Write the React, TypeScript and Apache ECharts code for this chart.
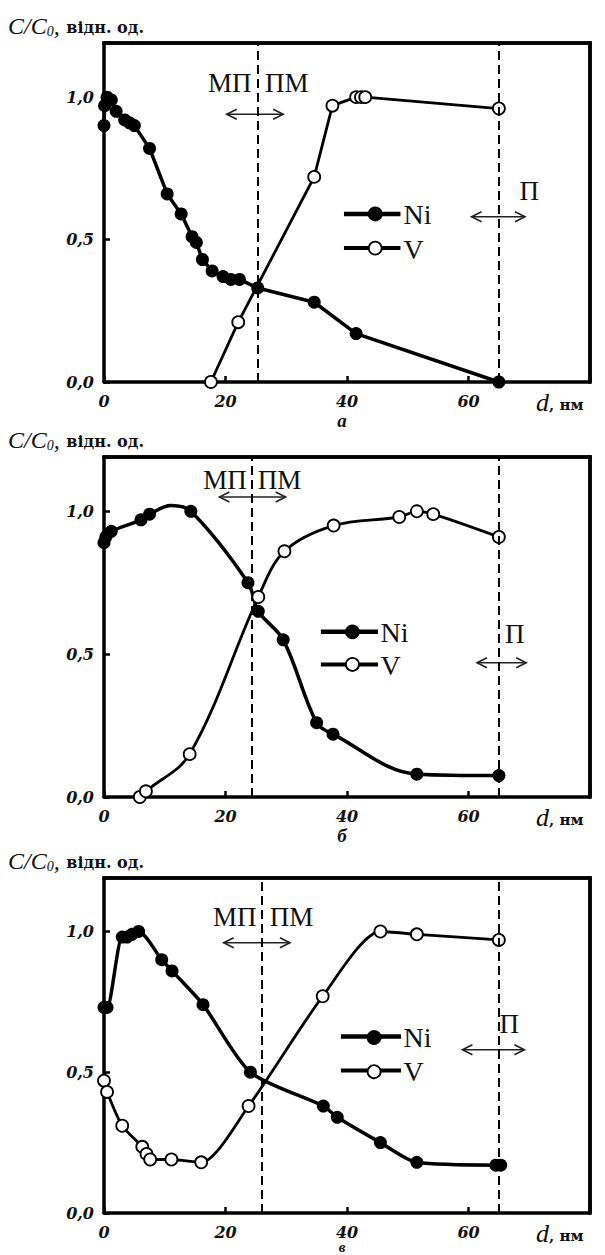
import React, { useEffect, useRef } from "react";
import * as echarts from "echarts";

// ---- data (d, nm ; C/C0) ----
const NI_A: number[][] = [
  [0, 0.9], [0.1, 0.97], [0.5, 1.0], [1.2, 0.99], [2.0, 0.95], [3.4, 0.92], [4.2, 0.91], [5.0, 0.9],
  [7.5, 0.82], [10.4, 0.66], [12.7, 0.59], [14.5, 0.51], [15.2, 0.49], [16.2, 0.43], [17.8, 0.39],
  [19.6, 0.37], [20.9, 0.36], [22.3, 0.36], [25.3, 0.33], [34.6, 0.28], [41.5, 0.17], [65, 0.0],
];
const V_A: number[][] = [
  [17.6, 0.0], [22.1, 0.21], [34.6, 0.72], [37.6, 0.97], [41.5, 1.0], [42.3, 1.0], [43, 1.0], [65, 0.96],
];
const NI_B: number[][] = [
  [0, 0.89], [0.3, 0.91], [1.2, 0.93], [6.1, 0.97], [7.5, 0.99], [11, 1.02], [14.3, 1.0], [23.7, 0.75],
  [25.4, 0.65], [29.5, 0.55], [35, 0.26], [37.7, 0.22], [51.5, 0.08], [65, 0.075],
];
const NI_B_UNMARKED: number[] = [11];
const V_B: number[][] = [
  [5.9, 0.0], [6.9, 0.02], [14.1, 0.15], [25.4, 0.7], [29.7, 0.86], [37.8, 0.95], [48.6, 0.98],
  [51.5, 1.0], [54.2, 0.99], [65, 0.91],
];
const NI_C: number[][] = [
  [0, 0.73], [0.5, 0.73], [3.0, 0.98], [3.8, 0.98], [4.6, 0.99], [5.7, 1.0], [9.5, 0.9], [11.2, 0.86],
  [16.3, 0.74], [24.1, 0.5], [36.1, 0.38], [38.4, 0.34], [45.5, 0.25], [51.5, 0.18], [64.5, 0.17], [65.3, 0.17],
];
const V_C: number[][] = [
  [0, 0.47], [0.5, 0.43], [3.0, 0.31], [6.3, 0.235], [7.0, 0.21], [7.6, 0.19], [11.1, 0.19], [16.0, 0.18],
  [23.8, 0.38], [36.0, 0.77], [45.5, 1.0], [51.5, 0.99], [65, 0.97],
];
const DASH_A = [25.3, 65];
const DASH_B = [24.4, 65];
const DASH_C = [25.9, 65];
const Y_LABELS = [0, 0.5, 1.0];
const X_LABELS = [0, 20, 40, 60];
const PANEL_LETTERS = ["а", "б", "в"];
const X_MAX = 80;
const Y_MAX = 1.19;

const SERIF = "'Liberation Serif', 'DejaVu Serif', serif";
const WIDE_SERIF = "'DejaVu Serif', 'Liberation Serif', serif";

const PANELS = [
  {
    top: 43, height: 339, ni: NI_A, v: V_A, dash: DASH_A, smooth: false as any,
    mp: { right: 24.3, left: 26.5, c: 1.05 }, mpArrow: { d1: 20.2, d2: 29.5, c: 0.94 },
    legend: { d1: 39.5, d2: 48.8, text: 49.3, cNi: 0.59, cV: 0.47 },
    p: { d: 70, c: 0.67 }, pArrow: { d1: 60.5, d2: 69.3, c: 0.58 },
  },
  {
    top: 457, height: 340, ni: NI_B, v: V_B, dash: DASH_B, smooth: 0.35 as any,
    mp: { right: 23.5, left: 25.3, c: 1.11 }, mpArrow: { d1: 19, d2: 29.9, c: 1.05 },
    legend: { d1: 35.7, d2: 45.1, text: 45.5, cNi: 0.578, cV: 0.464 },
    p: { d: 67.6, c: 0.57 }, pArrow: { d1: 61.4, d2: 69.5, c: 0.47 },
  },
  {
    top: 878, height: 335, ni: NI_C, v: V_C, dash: DASH_C, smooth: 0.25 as any,
    mp: { right: 25.1, left: 27.3, c: 1.05 }, mpArrow: { d1: 19.7, d2: 30.6, c: 0.96 },
    legend: { d1: 39, d2: 48.9, text: 49.3, cNi: 0.627, cV: 0.506 },
    p: { d: 66.7, c: 0.67 }, pArrow: { d1: 59, d2: 69.2, c: 0.58 },
  },
];

const GRID_LEFT = 104;
const GRID_WIDTH = 486;
const FRAME_W = 3.5;

export default function App() {
  const ref = useRef<HTMLDivElement>(null);
  useEffect(() => {
    const chart = echarts.init(ref.current!, null, { renderer: "svg" });
    const grids: any[] = [];
    const xAxes: any[] = [];
    const yAxes: any[] = [];
    const series: any[] = [];
    const labelStyle = {
      color: "#111", fontFamily: WIDE_SERIF, fontStyle: "italic", fontWeight: "bold", fontSize: 16,
    };
    PANELS.forEach((p, i) => {
      grids.push({ left: GRID_LEFT, top: p.top, width: GRID_WIDTH, height: p.height });
      xAxes.push({
        gridIndex: i, type: "value", min: 0, max: X_MAX, interval: 20,
        axisLine: { show: true, onZero: false, lineStyle: { color: "#000", width: FRAME_W } },
        axisTick: { show: true, inside: true, length: 6, lineStyle: { color: "#000", width: 2.5 } },
        splitLine: { show: false },
        axisLabel: {
          ...labelStyle, margin: 11,
          formatter: (v: number) => (X_LABELS.indexOf(v) >= 0 ? String(v) : ""),
        },
      });
      yAxes.push({
        gridIndex: i, type: "value", min: 0, max: Y_MAX, interval: 0.5,
        axisLine: { show: true, onZero: false, lineStyle: { color: "#000", width: FRAME_W } },
        axisTick: { show: true, inside: true, length: 6, lineStyle: { color: "#000", width: 2.5 } },
        splitLine: { show: false },
        axisLabel: {
          ...labelStyle, margin: 10,
          formatter: (v: number) =>
            Y_LABELS.some((t) => Math.abs(t - v) < 1e-6) ? v.toFixed(1).replace(".", ",") : "",
        },
      });
      const niData = p.ni.map((pt) =>
        i === 1 && NI_B_UNMARKED.indexOf(pt[0]) >= 0 ? { value: pt, symbol: "none" } : pt
      );
      series.push({
        type: "line", name: "Ni", xAxisIndex: i, yAxisIndex: i, data: niData, smooth: p.smooth,
        symbol: "circle", symbolSize: 13, showAllSymbol: true, clip: false,
        lineStyle: { color: "#000", width: 3.5 }, itemStyle: { color: "#000", borderColor: "#000", borderWidth: 0 },
        z: 3,
        markLine: {
          silent: true, symbol: "none", label: { show: false },
          lineStyle: { color: "#000", type: [9, 5], width: 2 },
          data: p.dash.map((d) => ({ xAxis: d })),
        },
      });
      series.push({
        type: "line", name: "V", xAxisIndex: i, yAxisIndex: i, data: p.v, smooth: p.smooth,
        symbol: "circle", symbolSize: 12, showAllSymbol: true, clip: false,
        lineStyle: { color: "#000", width: 2.8 }, itemStyle: { color: "#fff", borderColor: "#000", borderWidth: 1.8 },
        z: 4,
        markLine: {
          silent: true, symbol: "none", label: { show: false },
          lineStyle: { color: "#000", type: "solid", width: FRAME_W },
          data: [{ xAxis: X_MAX }, { yAxis: Y_MAX }],
        },
      });
    });

    chart.setOption({
      animation: false,
      backgroundColor: "#fff",
      grid: grids, xAxis: xAxes, yAxis: yAxes, series,
    });

    const graphics: any[] = [];
    const arrow = (x1: number, x2: number, y: number) => {
      const s = { stroke: "#222", lineWidth: 1.6, fill: "none" };
      graphics.push({ type: "line", shape: { x1, y1: y, x2, y2: y }, style: s });
      graphics.push({ type: "polyline", shape: { points: [[x1 + 10, y - 5], [x1, y], [x1 + 10, y + 5]] }, style: s });
      graphics.push({ type: "polyline", shape: { points: [[x2 - 10, y - 5], [x2, y], [x2 - 10, y + 5]] }, style: s });
    };
    PANELS.forEach((p, i) => {
      const px = (d: number, c: number) => chart.convertToPixel({ xAxisIndex: i, yAxisIndex: i } as any, [d, c]) as number[];
      // frame: top and right edges as thin filled bars
      const tl = px(0, Y_MAX);
      const br = px(X_MAX, 0);
      graphics.push({
        type: "rect", shape: { x: tl[0] - FRAME_W / 2, y: tl[1] - FRAME_W / 2, width: br[0] - tl[0] + FRAME_W, height: FRAME_W },
        style: { fill: "#000" },
      });
      graphics.push({
        type: "rect", shape: { x: br[0] - FRAME_W / 2, y: tl[1] - FRAME_W / 2, width: FRAME_W, height: br[1] - tl[1] + FRAME_W },
        style: { fill: "#000" },
      });
      // title
      graphics.push({
        type: "text", x: 8, y: p.top - 17,
        style: {
          text: "{i|C/C}{s|0}{i|,}  {b|відн. од.}", verticalAlign: "middle", fill: "#111",
          rich: {
            i: { fontFamily: SERIF, fontStyle: "italic", fontSize: 24, fill: "#111" },
            s: { fontFamily: SERIF, fontStyle: "italic", fontSize: 14, padding: [10, 0, 0, 0], fill: "#111" },
            b: { fontFamily: WIDE_SERIF, fontWeight: "bold", fontSize: 16, fill: "#111", padding: [3, 0, 0, 0] },
          },
        },
      });
      // x axis name
      graphics.push({
        type: "text", x: 536, y: p.top + p.height + 20,
        style: {
          text: "{d|d}{n|, нм}", verticalAlign: "middle", fill: "#111",
          rich: {
            d: { fontFamily: SERIF, fontStyle: "italic", fontSize: 26, fill: "#111" },
            n: { fontFamily: WIDE_SERIF, fontWeight: "bold", fontSize: 15, fill: "#111", padding: [5, 0, 0, 0] },
          },
        },
      });
      // panel letter
      const letterY = i === 2 ? 1247 : p.top + p.height + 38;
      graphics.push({
        type: "text", x: 342, y: letterY,
        style: {
          text: PANEL_LETTERS[i], align: "center", verticalAlign: "middle", fill: "#111",
          font: `italic bold ${i === 2 ? 15 : 19}px ${SERIF}`,
        },
      });
      // МП / ПМ
      const mpR = px(p.mp.right, p.mp.c);
      const mpL = px(p.mp.left, p.mp.c);
      graphics.push({
        type: "text", x: mpR[0], y: mpR[1],
        style: { text: "МП", align: "right", verticalAlign: "middle", fill: "#111", font: `27px ${SERIF}` },
      });
      graphics.push({
        type: "text", x: mpL[0], y: mpL[1],
        style: { text: "ПМ", align: "left", verticalAlign: "middle", fill: "#111", font: `27px ${SERIF}` },
      });
      const a1 = px(p.mpArrow.d1, p.mpArrow.c);
      const a2 = px(p.mpArrow.d2, p.mpArrow.c);
      arrow(a1[0], a2[0], a1[1]);
      // П
      const pp = px(p.p.d, p.p.c);
      graphics.push({
        type: "text", x: pp[0], y: pp[1],
        style: { text: "П", align: "center", verticalAlign: "middle", fill: "#111", font: `27px ${SERIF}` },
      });
      const b1 = px(p.pArrow.d1, p.pArrow.c);
      const b2 = px(p.pArrow.d2, p.pArrow.c);
      arrow(b1[0], b2[0], b1[1]);
      // legend
      const lg = p.legend;
      [
        { name: "Ni", c: lg.cNi, fill: "#000", lw: 4.5 },
        { name: "V", c: lg.cV, fill: "#fff", lw: 4 },
      ].forEach((it) => {
        const l1 = px(lg.d1, it.c);
        const l2 = px(lg.d2, it.c);
        const tx = px(lg.text, it.c);
        graphics.push({
          type: "line", shape: { x1: l1[0], y1: l1[1], x2: l2[0], y2: l2[1] },
          style: { stroke: "#000", lineWidth: it.lw },
        });
        graphics.push({
          type: "circle", shape: { cx: (l1[0] + l2[0]) / 2 + 3, cy: l1[1], r: 6.5 },
          style: { fill: it.fill, stroke: "#000", lineWidth: 1.8 },
        });
        graphics.push({
          type: "text", x: tx[0], y: tx[1] + 1,
          style: { text: it.name, align: "left", verticalAlign: "middle", fill: "#111", font: `28px ${SERIF}` },
        });
      });
    });
    chart.setOption({ graphic: graphics });
    return () => chart.dispose();
  }, []);
  return (
    <div
      ref={ref}
      style={{ position: "absolute", left: 0, top: 0, width: 605, height: 1255, background: "#fff" }}
    />
  );
}
